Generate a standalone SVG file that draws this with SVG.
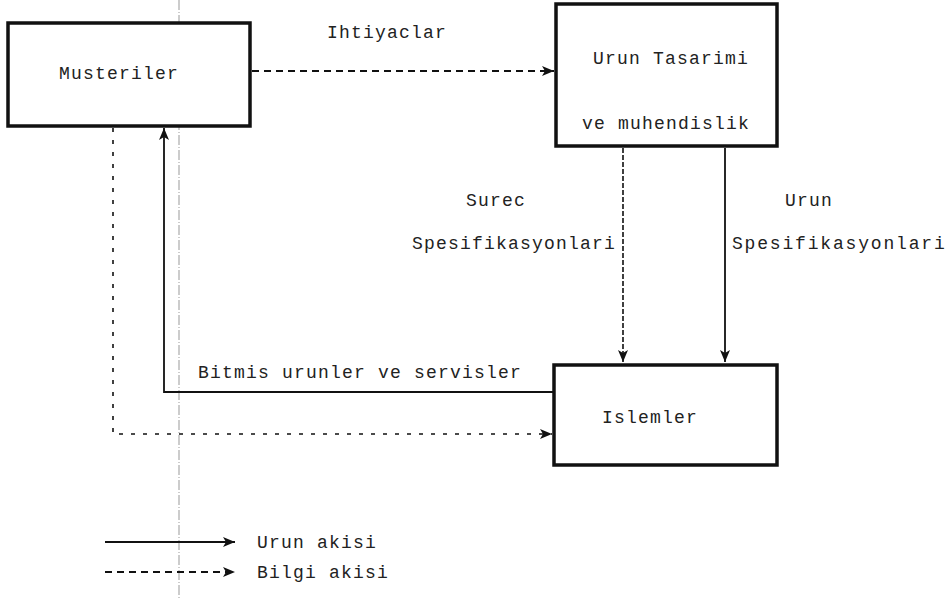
<svg xmlns="http://www.w3.org/2000/svg" width="952" height="599" viewBox="0 0 952 599">
  <style>
    .box { fill: #fff; stroke: #111; stroke-width: 3.5; }
    .lbl { font-family: "Liberation Mono", "DejaVu Sans Mono", monospace; font-size: 18px; letter-spacing: 1.2px; fill: #222; }
    .solid { fill: none; stroke: #111; stroke-width: 1.8; }
    .dash { fill: none; stroke: #111; stroke-width: 1.8; stroke-dasharray: 7 5; }
    .dashv { fill: none; stroke: #111; stroke-width: 1.6; stroke-dasharray: 4 8; }
    .fine { fill: none; stroke: #111; stroke-width: 1.6; stroke-dasharray: 5 2; }
    .scan { fill: none; stroke: #999; stroke-width: 1; stroke-dasharray: 10 2 1 2; }
  </style>
  <defs>
    <marker id="head" viewBox="0 0 12 10" refX="12" refY="5" markerWidth="12" markerHeight="10" markerUnits="userSpaceOnUse" orient="auto">
      <path d="M0,0 L12,5 L0,10 L3,5 Z" fill="#111"/>
    </marker>
  </defs>

  <!-- faint vertical rule across the sheet -->
  <line class="scan" x1="179" y1="0" x2="179" y2="599"/>

  <g id="musteriler">
    <rect class="box" x="8" y="23" width="242" height="103"/>
    <text class="lbl" x="59" y="79">Musteriler</text>
  </g>

  <g id="urun-tasarimi">
    <rect class="box" x="556" y="4" width="221" height="142"/>
    <text class="lbl" x="593" y="64">Urun Tasarimi</text>
    <text class="lbl" x="582" y="129">ve muhendislik</text>
  </g>

  <g id="islemler">
    <rect class="box" x="554" y="365" width="223" height="100"/>
    <text class="lbl" x="602" y="423">Islemler</text>
  </g>

  <g id="connectors">
    <!-- Ihtiyaclar -->
    <line class="dash" x1="252" y1="71" x2="554" y2="71" marker-end="url(#head)"/>
    <text class="lbl" x="327" y="38">Ihtiyaclar</text>

    <!-- Surec spesifikasyonlari -->
    <line class="fine" x1="623" y1="148" x2="623" y2="362" marker-end="url(#head)"/>
    <text class="lbl" x="466" y="206">Surec</text>
    <text class="lbl" x="412" y="249" textLength="204">Spesifikasyonlari</text>

    <!-- Urun spesifikasyonlari -->
    <line class="solid" x1="725" y1="148" x2="725" y2="362" marker-end="url(#head)"/>
    <text class="lbl" x="785" y="206">Urun</text>
    <text class="lbl" x="732" y="249" textLength="214">Spesifikasyonlari</text>

    <!-- Bitmis urunler ve servisler -->
    <polyline class="solid" points="554,392 164,392 164,128" marker-end="url(#head)"/>
    <text class="lbl" x="198" y="378">Bitmis urunler ve servisler</text>

    <!-- Musteriler to Islemler information -->
    <polyline class="dashv" points="113,128 113,434 552,434" marker-end="url(#head)"/>
  </g>

  <g id="legend">
    <line class="solid" x1="105" y1="542" x2="235" y2="542" marker-end="url(#head)"/>
    <text class="lbl" x="257" y="548">Urun akisi</text>
    <line class="dash" x1="105" y1="572" x2="235" y2="572" marker-end="url(#head)"/>
    <text class="lbl" x="257" y="578">Bilgi akisi</text>
  </g>
</svg>
